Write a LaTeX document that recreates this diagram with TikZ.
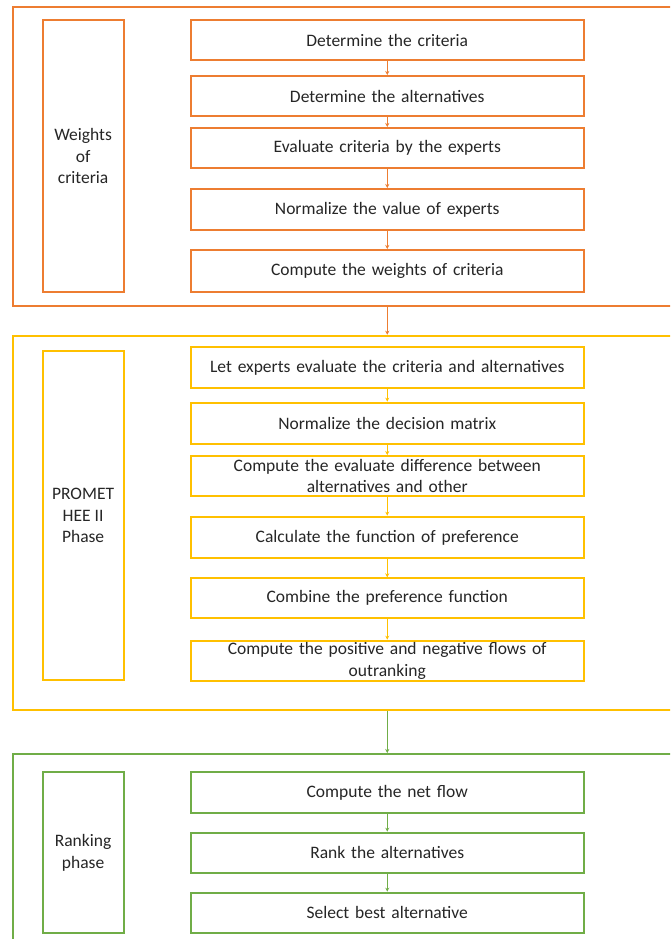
\documentclass[tikz,border=0pt]{standalone}
\usepackage{fontspec}
\setmainfont{Carlito}
\usetikzlibrary{arrows.meta}
\definecolor{cOrange}{HTML}{ED7D31}
\definecolor{cGold}{HTML}{FFC000}
\definecolor{cGreen}{HTML}{70AD47}
\definecolor{cText}{HTML}{262626}
\begin{document}
\begin{tikzpicture}[x=1pt,y=-1pt,
  every node/.style={text=cText, font=\fontsize{17.5}{21.7}\selectfont},
  stepbox/.style={draw, line width=2pt, minimum width=392.5pt, minimum height=40pt, inner sep=0pt, align=center, text width=385pt},
  phasebox/.style={draw, line width=2pt, minimum width=80.8pt, inner sep=0pt, align=center},
  outerbox/.style={draw, line width=2pt, inner sep=0pt},
  link/.style={line width=1.5pt, -{Stealth[length=4pt,width=4pt]}}
]
\useasboundingbox (0,0) rectangle (670,939);
\clip (0,0) rectangle (670,939);
\fill[white] (0,0) rectangle (670,939);

% ---------- Weights of criteria ----------
\node[outerbox, draw=cOrange, minimum width=700pt, minimum height=298.2pt] (W) at (362.8,156.4) {};
\node[phasebox, draw=cOrange, minimum height=272.3pt] (Wl) at (83.1,156.2) {Weights\\of\\criteria};
\node[stepbox, draw=cOrange] (a1) at (387.25,40) {Determine the criteria};
\node[stepbox, draw=cOrange] (a2) at (387.25,96) {Determine the alternatives};
\node[stepbox, draw=cOrange] (a3) at (387.25,148) {Evaluate criteria by the experts};
\node[stepbox, draw=cOrange, minimum height=41pt] (a4) at (387.25,209.5) {Normalize the value of experts};
\node[stepbox, draw=cOrange, minimum height=42pt] (a5) at (387.25,271) {Compute the weights of criteria};
\foreach \s/\t in {a1/a2,a2/a3,a3/a4,a4/a5}
  \draw[link, cOrange] (\s) -- (\t);

% ---------- PROMETHEE II ----------
\node[outerbox, draw=cGold, minimum width=700pt, minimum height=374.3pt] (P) at (362.8,522.9) {};
\node[phasebox, draw=cGold, minimum height=329.3pt] (Pl) at (83.1,515.4) {PROMET\\HEE II\\Phase};
\node[stepbox, draw=cGold, minimum height=41.6pt] (b1) at (387.25,367.5) {Let experts evaluate the criteria and alternatives};
\node[stepbox, draw=cGold, minimum height=41.3pt] (b2) at (387.25,423.3) {Normalize the decision matrix};
\node[stepbox, draw=cGold] (b3) at (387.25,476) {Compute the evaluate difference between\\alternatives and other};
\node[stepbox, draw=cGold, minimum height=41.6pt] (b4) at (387.25,537.5) {Calculate the function of preference};
\node[stepbox, draw=cGold] (b5) at (387.25,598.3) {Combine the preference function};
\node[stepbox, draw=cGold] (b6) at (387.25,660.7) {Compute the positive and negative flows of\\outranking};
\foreach \s/\t in {b1/b2,b2/b3,b3/b4,b4/b5,b5/b6}
  \draw[link, cGold] (\s) -- (\t);

% ---------- Ranking phase ----------
\node[outerbox, draw=cGreen, minimum width=700pt, minimum height=220pt] (R) at (362.8,864) {};
\node[phasebox, draw=cGreen, minimum height=160.4pt] (Rl) at (83.1,852.5) {Ranking\\phase};
\node[stepbox, draw=cGreen, minimum height=41pt] (c1) at (387.25,792.8) {Compute the net flow};
\node[stepbox, draw=cGreen] (c2) at (387.25,852.7) {Rank the alternatives};
\node[stepbox, draw=cGreen] (c3) at (387.25,912.7) {Select best alternative};
\foreach \s/\t in {c1/c2,c2/c3}
  \draw[link, cGreen] (\s) -- (\t);

% ---------- links between phases ----------
\draw[link, cOrange] (a5.south |- W.south) -- (a5.south |- P.north);
\draw[link, cGreen] (b6.south |- P.south) -- (b6.south |- R.north);
\end{tikzpicture}
\end{document}
